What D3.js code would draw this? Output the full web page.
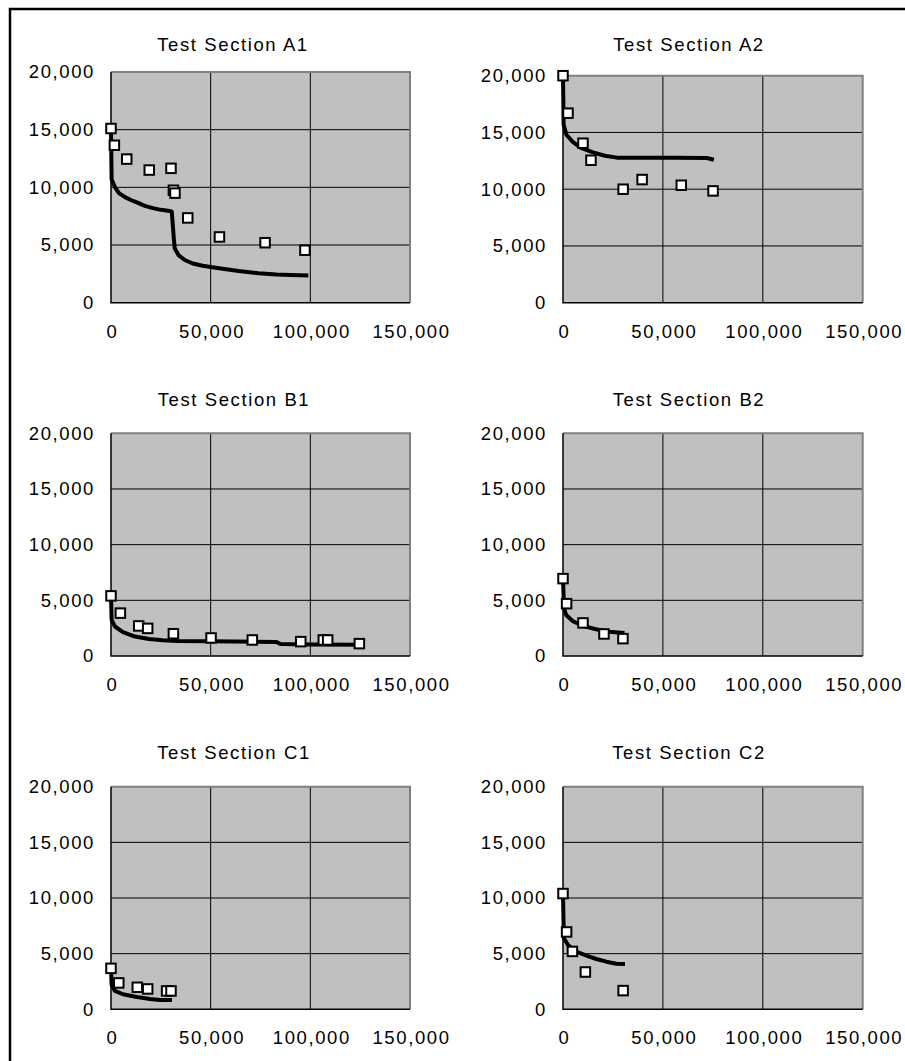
<!DOCTYPE html>
<html>
<head>
<meta charset="utf-8">
<script src="https://cdn.jsdelivr.net/npm/d3@7"></script>
<style>
body { margin: 0; background: #fff; }
text { font-family: "Liberation Sans", Arial, sans-serif; font-size: 18.5px; letter-spacing: 1.6px; fill: #000; }
</style>
</head>
<body>
<svg id="chart" width="905" height="1061"></svg>
<script>
var xTicks = [0, 50000, 100000, 150000];
var yTicks = [0, 5000, 10000, 15000, 20000];
var sections = ["A1", "A2", "B1", "B2", "C1", "C2"];

// measured points [x, y]
var measA1 = [[0,15100],[1700,13650],[7900,12450],[19200,11500],[30100,11650],[31300,9750],[32100,9500],[38500,7350],[54400,5700],[77300,5200],[97300,4550]];
var measA2 = [[0,20000],[2500,16700],[10000,14050],[14000,12550],[30100,10000],[39600,10850],[59200,10350],[75100,9850]];
var measB1 = [[0,5400],[4700,3850],[13900,2700],[18400,2480],[31300,2000],[50200,1620],[70900,1440],[95200,1290],[106500,1440],[108700,1440],[124600,1110]];
var measB2 = [[0,6950],[1800,4700],[10000,2970],[20500,1980],[30000,1560]];
var measC1 = [[0,3680],[3900,2370],[13200,1980],[18400,1830],[27900,1650],[30100,1650]];
var measC2 = [[0,10400],[1800,6950],[4700,5200],[11200,3350],[30100,1680]];

// fitted curves [x, y]
var fitA1 = [[0,15100],[300,10700],[2000,10000],[4000,9500],[7000,9150],[10000,8900],[13000,8700],[17000,8400],[21000,8200],[25000,8050],[29500,7950],[30500,7900],[31500,5600],[32000,4700],[34000,4100],[37000,3700],[41000,3400],[46000,3200],[50000,3100],[56000,2950],[64000,2750],[74000,2550],[83000,2450],[90000,2400],[99000,2350]];
var fitA2 = [[0,20000],[300,15700],[1700,14800],[5000,14150],[9000,13650],[15000,13250],[21000,12950],[27000,12780],[40000,12780],[56000,12780],[72000,12750],[75500,12600]];
var fitB1 = [[0,5400],[300,3250],[2000,2650],[6000,2150],[12000,1750],[19000,1530],[26000,1420],[33000,1350],[50000,1320],[83000,1260],[85000,1070],[100000,1030],[125000,1020]];
var fitB2 = [[0,6950],[500,4250],[1700,3650],[5000,3120],[10000,2700],[16500,2400],[23000,2170],[30800,2070]];
var fitC1 = [[0,3680],[300,2200],[2000,1650],[6000,1350],[13000,1110],[19500,930],[24500,840],[30600,840]];
var fitC2 = [[0,10400],[400,6400],[2500,5780],[6700,5180],[11700,4820],[16700,4520],[21700,4280],[26700,4100],[31000,4070]];

var measured = {A1: measA1, A2: measA2, B1: measB1, B2: measB2, C1: measC1, C2: measC2};
var fitted = {A1: fitA1, A2: fitA2, B1: fitB1, B2: fitB2, C1: fitC1, C2: fitC2};

// plot area boxes
var boxes = {
    A1: {left: 111, right: 410, top: 72, bottom: 302.7, titleX: 233, titleY: 51},
    A2: {left: 563, right: 862.7, top: 75.7, bottom: 302.7, titleX: 689, titleY: 51},
    B1: {left: 111, right: 410, top: 433.3, bottom: 656, titleX: 234, titleY: 405.5},
    B2: {left: 563, right: 862.7, top: 433.3, bottom: 656, titleX: 689, titleY: 405.5},
    C1: {left: 111, right: 410, top: 786.7, bottom: 1009.3, titleX: 234, titleY: 758.5},
    C2: {left: 563, right: 862.7, top: 786.7, bottom: 1009.3, titleX: 689, titleY: 758.5}
};

var svg = d3.select("#chart");
var fmt = d3.format(",");

svg.append("path")
    .attr("d", "M10,1061V9H905")
    .attr("fill", "none")
    .attr("stroke", "#000")
    .attr("stroke-width", 2.5);

sections.forEach(function(name) {
    var b = boxes[name];
    var x = d3.scaleLinear().domain([0, 150000]).range([b.left, b.right]);
    var y = d3.scaleLinear().domain([0, 20000]).range([b.bottom, b.top]);
    var g = svg.append("g");

    g.append("text")
        .attr("x", b.titleX)
        .attr("y", b.titleY)
        .attr("text-anchor", "middle")
        .text("Test Section " + name);

    g.append("rect")
        .attr("x", b.left)
        .attr("y", b.top)
        .attr("width", b.right - b.left)
        .attr("height", b.bottom - b.top)
        .attr("fill", "#c0c0c0");

    // gridlines
    g.selectAll(".gy")
        .data(yTicks.slice(1, -1))
        .enter()
        .append("line")
        .attr("x1", b.left).attr("x2", b.right)
        .attr("y1", d => y(d)).attr("y2", d => y(d))
        .attr("stroke", "#000").attr("stroke-width", 1);
    g.selectAll(".gx")
        .data(xTicks.slice(1, -1))
        .enter()
        .append("line")
        .attr("x1", d => x(d)).attr("x2", d => x(d))
        .attr("y1", b.top).attr("y2", b.bottom)
        .attr("stroke", "#000").attr("stroke-width", 1);

    // frame: grey top/right, black axes
    g.append("path")
        .attr("d", "M" + b.left + "," + b.top + "H" + b.right + "V" + b.bottom)
        .attr("fill", "none").attr("stroke", "#808080").attr("stroke-width", 2);
    g.append("path")
        .attr("d", "M" + b.left + "," + b.top + "V" + b.bottom + "H" + b.right)
        .attr("fill", "none").attr("stroke", "#000").attr("stroke-width", 1.5);

    // axes labels
    var yAxis = d3.axisLeft(y).tickValues(yTicks).tickFormat(fmt).tickSize(0).tickPadding(16);
    var xAxis = d3.axisBottom(x).tickValues(xTicks).tickFormat(fmt).tickSize(0).tickPadding(22);
    var ya = g.append("g").attr("transform", "translate(" + b.left + ",0)").call(yAxis);
    var xa = g.append("g").attr("transform", "translate(0," + b.bottom + ")").call(xAxis);
    [ya, xa].forEach(function(a) {
        a.select(".domain").remove();
        a.attr("font-size", null).attr("font-family", null);
    });
    xa.selectAll("text").attr("dx", "1px");

    // fitted line
    g.append("path")
        .datum(fitted[name])
        .attr("d", d3.line().x(d => x(d[0])).y(d => y(d[1])))
        .attr("fill", "none")
        .attr("stroke", "#000")
        .attr("stroke-width", 4)
        .attr("stroke-linejoin", "round");

    // measured markers
    g.selectAll(".m")
        .data(measured[name])
        .enter()
        .append("rect")
        .attr("x", d => x(d[0]) - 4.75)
        .attr("y", d => y(d[1]) - 4.75)
        .attr("width", 9.5)
        .attr("height", 9.5)
        .attr("fill", "#fff")
        .attr("stroke", "#000")
        .attr("stroke-width", 2);
});
</script>
</body>
</html>
